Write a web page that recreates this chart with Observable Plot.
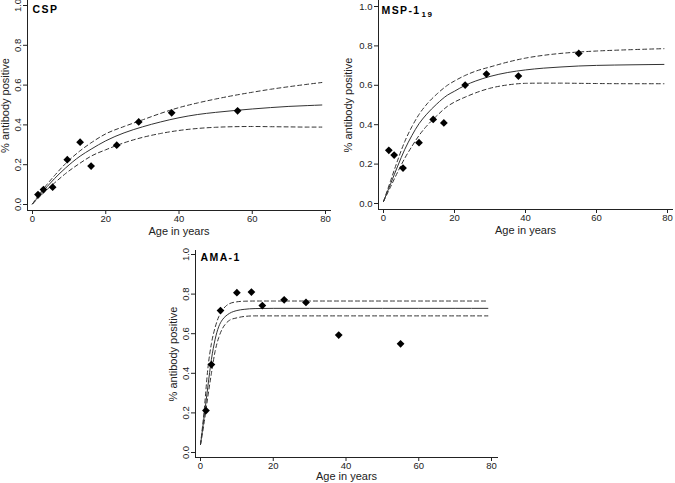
<!DOCTYPE html>
<html><head><meta charset="utf-8">
<script src="https://cdn.jsdelivr.net/npm/d3@7"></script>
<script src="https://cdn.jsdelivr.net/npm/@observablehq/plot@0.6"></script>
<style>
body{margin:0;background:#fff;}
#wrap{position:relative;width:675px;height:483px;overflow:hidden;background:#fff;}
.panel{position:absolute;}
.panel svg{overflow:visible;}
</style></head><body><div id="wrap"></div>
<script>
// ---- data ----
const xTicks = [0, 20, 40, 60, 80];
const yTicks = [0, 0.2, 0.4, 0.6, 0.8, 1.0];
const xLabel = "Age in years";
const yLabel = "% antibody positive";

// CSP
const cspAge = [1.5, 3, 5.5, 9.5, 13, 16, 23, 29, 38, 56];
const cspPos = [0.05, 0.075, 0.087, 0.225, 0.313, 0.193, 0.298, 0.415, 0.461, 0.471];
const cspCurveAge = [0, 2, 4, 6, 9, 13, 16, 20, 25, 30, 35, 40, 45, 50, 55, 60, 65, 70, 75, 79];
const cspFit   = [0.003, 0.048, 0.09, 0.13, 0.183, 0.243, 0.278, 0.32, 0.36, 0.39, 0.415, 0.436, 0.452, 0.463, 0.472, 0.48, 0.487, 0.493, 0.497, 0.50];
const cspUpper = [0.003, 0.055, 0.102, 0.145, 0.205, 0.27, 0.31, 0.355, 0.392, 0.425, 0.458, 0.487, 0.51, 0.53, 0.548, 0.564, 0.579, 0.592, 0.604, 0.613];
const cspLower = [0.003, 0.04, 0.076, 0.108, 0.155, 0.208, 0.243, 0.275, 0.31, 0.337, 0.357, 0.372, 0.382, 0.388, 0.391, 0.392, 0.391, 0.39, 0.389, 0.389];

// MSP-1 19
const mspAge = [1.5, 3, 5.5, 10, 14, 17, 23, 29, 38, 55];
const mspPos = [0.27, 0.246, 0.18, 0.309, 0.427, 0.409, 0.601, 0.657, 0.647, 0.762];
const mspCurveAge = [0, 2, 4, 6, 8, 10, 12, 15, 18, 20, 23, 26, 30, 35, 40, 45, 50, 55, 60, 70, 79];
const mspFit   = [0.01, 0.10, 0.19, 0.275, 0.345, 0.405, 0.45, 0.505, 0.55, 0.57, 0.60, 0.622, 0.645, 0.665, 0.678, 0.687, 0.693, 0.698, 0.701, 0.704, 0.706];
const mspUpper = [0.01, 0.115, 0.22, 0.315, 0.39, 0.452, 0.50, 0.555, 0.60, 0.622, 0.65, 0.672, 0.693, 0.718, 0.738, 0.752, 0.762, 0.769, 0.774, 0.781, 0.786];
const mspLower = [0.01, 0.085, 0.16, 0.23, 0.29, 0.345, 0.39, 0.445, 0.493, 0.515, 0.54, 0.562, 0.585, 0.602, 0.61, 0.611, 0.611, 0.61, 0.609, 0.608, 0.608];

// AMA-1
const amaAge = [1.5, 3, 5.5, 10, 14, 17, 23, 29, 38, 55];
const amaPos = [0.212, 0.444, 0.717, 0.807, 0.81, 0.742, 0.771, 0.758, 0.593, 0.549];
const amaCurveAge = [0, 1, 2, 3, 4, 5, 6, 7, 8, 10, 12, 15, 20, 30, 40, 50, 60, 70, 79];
const amaFit   = [0.04, 0.18, 0.33, 0.47, 0.57, 0.635, 0.67, 0.69, 0.703, 0.717, 0.723, 0.727, 0.728, 0.728, 0.728, 0.728, 0.728, 0.728, 0.728];
const amaUpper = [0.04, 0.21, 0.42, 0.55, 0.63, 0.685, 0.718, 0.74, 0.752, 0.761, 0.764, 0.765, 0.765, 0.765, 0.765, 0.765, 0.765, 0.765, 0.765];
const amaLower = [0.04, 0.15, 0.28, 0.40, 0.51, 0.58, 0.625, 0.652, 0.668, 0.68, 0.687, 0.69, 0.69, 0.69, 0.69, 0.69, 0.69, 0.69, 0.69];

// ---- drawing ----
const FONT = '"Liberation Sans", Arial, sans-serif';
const INK = "#222";

function panel(cfg) {
  const pts = cfg.age.map((a, i) => ({age: a, p: cfg.pos[i]}));
  const rows = vals => cfg.curveAge.map((a, i) => ({age: a, p: vals[i]}));
  const m = cfg.m;
  const marks = [
    Plot.frame({anchor: "left", stroke: INK}),
    Plot.frame({anchor: "bottom", stroke: INK}),
    Plot.axisX({ticks: xTicks, tickSize: 4, tickPadding: 1, label: null, fontSize: 9.5, stroke: INK, fill: INK}),
    cfg.rotY
      ? Plot.axisY({ticks: yTicks, tickSize: 4, tickFormat: () => "", label: null, stroke: INK})
      : Plot.axisY({ticks: yTicks, tickSize: 4, tickPadding: 2, tickFormat: d => d.toFixed(1), label: null, fontSize: 9.5, stroke: INK, fill: INK}),
    cfg.rotY ? Plot.text(yTicks, {y: d => d, text: d => d.toFixed(1), frameAnchor: "left", rotate: -90, dx: -7, lineAnchor: "bottom", textAnchor: "middle", fontSize: 9.5, fill: INK}) : null,
    Plot.line(rows(cfg.upper), {x: "age", y: "p", curve: "monotone-x", stroke: "#333", strokeWidth: 1, strokeDasharray: "4,3"}),
    Plot.line(rows(cfg.lower), {x: "age", y: "p", curve: "monotone-x", stroke: "#333", strokeWidth: 1, strokeDasharray: "4,3"}),
    Plot.line(rows(cfg.fit), {x: "age", y: "p", curve: "monotone-x", stroke: "#333", strokeWidth: 1}),
    Plot.dot(pts, {x: "age", y: "p", symbol: "diamond2", r: 3.5, fill: "#000", stroke: "none"}),
    Plot.text([xLabel], {text: d => d, frameAnchor: "bottom", dy: cfg.xLabDy, lineAnchor: "middle", textAnchor: "middle", fontSize: 11, fill: INK}),
    Plot.text([yLabel], {text: d => d, frameAnchor: "left", rotate: -90, dx: cfg.yLabDx, lineAnchor: "middle", textAnchor: "middle", fontSize: 11, fill: INK}),
    Plot.text([cfg.title], {text: d => d, frameAnchor: "top-left", dx: cfg.titleDx, dy: cfg.titleDy, textAnchor: "start", lineAnchor: "middle", fontWeight: "bold", fontSize: 10.5, fill: "#000"})
  ].filter(Boolean);
  const plot = Plot.plot({
    width: cfg.w, height: cfg.h,
    marginLeft: m[3], marginRight: m[1], marginTop: m[0], marginBottom: m[2],
    style: {fontFamily: FONT, background: "transparent", color: INK},
    x: {domain: [0, 80], insetLeft: 5, insetRight: cfg.insR},
    y: {domain: [0, 1], insetTop: cfg.insT, insetBottom: cfg.insB},
    marks
  });
  const t = d3.select(plot).selectAll("text")
    .filter(function () { return this.textContent === cfg.title; })
    .attr("letter-spacing", 1.4);
  if (cfg.sub) t.append("tspan").attr("font-size", 8).attr("dy", 3).attr("dx", 1).text(cfg.sub);
  const div = document.createElement("div");
  div.className = "panel";
  div.style.left = cfg.left + "px";
  div.style.top = cfg.top + "px";
  div.appendChild(plot);
  document.getElementById("wrap").appendChild(div);
}

panel({title: "CSP", age: cspAge, pos: cspPos, curveAge: cspCurveAge, fit: cspFit, upper: cspUpper, lower: cspLower,
  left: 0, top: 0, w: 335, h: 240, m: [0, 5, 30, 27], insR: 5, insT: 5, insB: 6, rotY: true, yLabDx: -22, xLabDy: 20.5, titleDx: 5, titleDy: 9});
panel({title: "MSP-1", sub: "19", age: mspAge, pos: mspPos, curveAge: mspCurveAge, fit: mspFit, upper: mspUpper, lower: mspLower,
  left: 335, top: 0, w: 340, h: 240, m: [0, 3, 31, 43], insR: 5, insT: 6, insB: 6, rotY: false, yLabDx: -30, xLabDy: 20.5, titleDx: 3, titleDy: 10});
panel({title: "AMA-1", age: amaAge, pos: amaPos, curveAge: amaCurveAge, fit: amaFit, upper: amaUpper, lower: amaLower,
  left: 160, top: 240, w: 340, h: 243, m: [10, 3, 26, 35], insR: 6, insT: 4, insB: 5, rotY: true, yLabDx: -22, xLabDy: 19, titleDx: 5, titleDy: 7});
</script>
</body></html>
